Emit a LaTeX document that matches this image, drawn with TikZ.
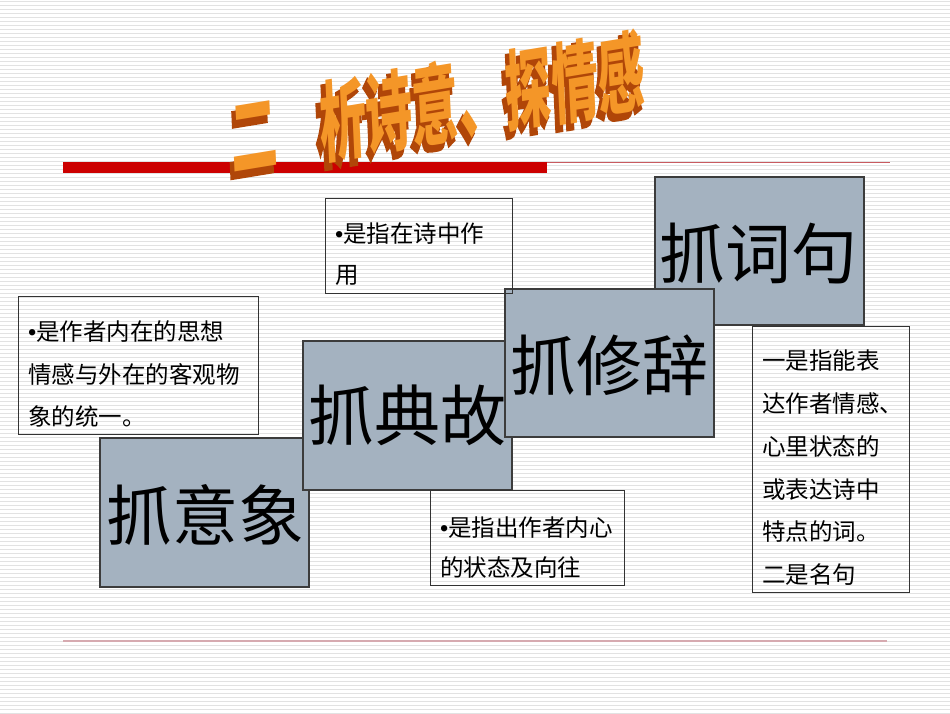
\documentclass[tikz,border=0pt]{standalone}
\usepackage{fontspec}
\newfontfamily\cjk{Noto Sans CJK SC}
\newfontfamily\cjkfat[FakeBold=4]{Noto Sans CJK SC}
\newfontfamily\lat{Liberation Sans}
\definecolor{boxgray}{RGB}{164,178,192}
\definecolor{boxedge}{RGB}{60,60,60}
\definecolor{stripe}{RGB}{226,226,226}
\definecolor{titlered}{RGB}{204,0,0}
\definecolor{thinred}{RGB}{200,90,95}
\definecolor{footcol}{RGB}{214,170,176}
\definecolor{wafront}{RGB}{244,150,40}
\definecolor{waside}{RGB}{176,70,8}
\tikzset{
  graybox/.style={draw=boxedge, fill=boxgray, line width=1.2pt},
  textbox/.style={draw=black!80, line width=1pt},
  biglabel/.style={font=\cjk\fontsize{66}{66}\selectfont, anchor=base, inner sep=0pt},
  smalltext/.style={font=\cjk\fontsize{23.5}{23.5}\selectfont, anchor=base west, inner sep=0pt},
  watext/.style={font=\cjk\bfseries\fontsize{88}{88}\selectfont, xscale=0.53, rotate=5, inner sep=0pt},
  washadow/.style={font=\cjkfat\bfseries\fontsize{88}{88}\selectfont, xscale=0.53, rotate=5, inner sep=0pt}
}
\begin{document}
\begin{tikzpicture}[x=1pt,y=-1pt]
\useasboundingbox (0,0) rectangle (950,713);
% striped background
\foreach \i in {1,5,...,713} {\fill[stripe] (0,\i) rectangle (950,\i+1.3);}
% header and footer rules
\fill[titlered] (63,162) rectangle (547,173);
\draw[thinred, line width=1.2pt] (547,162.5) -- (890,162.5);
\draw[footcol, line width=1.4pt] (63,641) -- (887,641);
% WordArt title
\node[washadow, text=waside] (titleside) at (434,109) {二\hspace{0.9em}析诗意、探情感};
\node[watext, text=wafront] (title) at (438,103) {二\hspace{0.9em}析诗意、探情感};
% left text box
\draw[textbox] (18,296) rectangle (258,434);
\node[smalltext] (t1a) at (28,340) {{\lat •}是作者内在的思想};
\node[smalltext] (t1b) at (28,383) {情感与外在的客观物};
\node[smalltext] (t1c) at (28,425) {象的统一。};
% gray boxes
\draw[graybox] (100,438) rectangle (309,587);
\node[biglabel] (yixiang) at (205,540) {抓意象};
\draw[graybox] (303,341) rectangle (512,490);
\node[biglabel] (diangu) at (407,440) {抓典故};
\draw[graybox] (655,177) rectangle (864,325);
\node[biglabel] (ciju) at (758,278) {抓词句};
\draw[graybox] (505,289) rectangle (714,437);
\node[biglabel] (xiuci) at (609,390) {抓修辞};
% top middle text box
\draw[textbox] (325,198) rectangle (512,293);
\node[smalltext] (t2a) at (335,242) {{\lat •}是指在诗中作};
\node[smalltext] (t2b) at (335,283) {用};
% bottom middle text box
\draw[textbox] (430,490) rectangle (624,585);
\node[smalltext] (t3a) at (440,536) {{\lat •}是指出作者内心};
\node[smalltext] (t3b) at (440,576) {的状态及向往};
% right text box
\draw[textbox] (752,326) rectangle (909,592);
\node[smalltext] (t4a) at (762,369) {一是指能表};
\node[smalltext] (t4b) at (762,412) {达作者情感、};
\node[smalltext] (t4c) at (762,455) {心里状态的};
\node[smalltext] (t4d) at (762,498) {或表达诗中};
\node[smalltext] (t4e) at (762,540) {特点的词。};
\node[smalltext] (t4f) at (762,583) {二是名句};
\end{tikzpicture}
\end{document}
